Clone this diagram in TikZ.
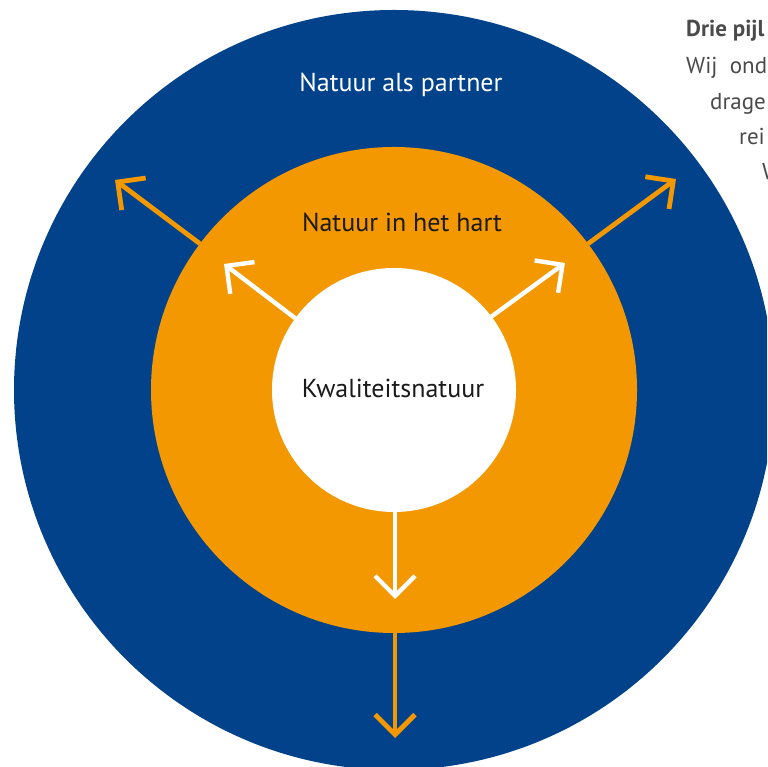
\documentclass[tikz,border=0pt]{standalone}
\usepackage{fontspec}
\setmainfont{PT Sans}
\usetikzlibrary{arrows.meta}
\definecolor{nblue}{HTML}{02428A}
\definecolor{norange}{HTML}{F39800}
\definecolor{ngray}{HTML}{4A4A4A}
\definecolor{ntext}{HTML}{1A1A1A}
\begin{document}
\begin{tikzpicture}[x=1pt,y=1pt,
  ring/.style={circle, inner sep=0, outer sep=0, draw=none},
  bigtext/.style={anchor=base, inner sep=0, font=\fontsize{26}{30}\selectfont},
  sidetext/.style={anchor=base west, inner sep=0, text=ngray, font=\fontsize{23}{27}\selectfont},
  orangearrow/.style={draw=norange, line width=4.8, -{Straight Barb[sharp, length=20, width=40]}},
  whitearrow/.style={draw=white, line width=4.4, -{Straight Barb[sharp, length=20, width=40]}}
]
\useasboundingbox (0,0) rectangle (767,767);
\clip (0,0) rectangle (767,767);
\node[ring, fill=nblue, minimum size=760] (outer) at (394,377) {};
\node[ring, fill=norange, minimum size=486] (middle) at (394,377) {};
\node[ring, fill=white, minimum size=244] (inner) at (394,377) {};
% labels
\node[bigtext, text=white] (t1) at (401,675) {Natuur als partner};
\node[bigtext, text=ntext] (t2) at (402,535) {Natuur in het hart};
\node[bigtext, text=ntext] (t3) at (393,369) {Kwaliteitsnatuur};
% side text (cut off at the right edge, as in the reference)
\node[sidetext, font=\fontsize{23}{27}\selectfont\bfseries] (s1) at (686,730) {Drie pijl};
\node[sidetext] (s2) at (686,693) {Wij\ \ ond};
\node[sidetext] (s3) at (710,657) {drage};
\node[sidetext] (s4) at (739,622) {rei};
\node[sidetext] (s5) at (762,587) {W};
% arrow end points
\coordinate (oUL) at (115,587);
\coordinate (oUR) at (676,588);
\coordinate (oB) at (395,29);
\coordinate (wUL) at (224,503);
\coordinate (wUR) at (565,504);
\coordinate (wB) at (395,168);
% arrows
\draw[orangearrow] (middle.143) -- (oUL);
\draw[orangearrow] (middle.37) -- (oUR);
\draw[orangearrow] (middle.south -| oB) -- (oB);
\draw[whitearrow] (inner.144) -- (wUL);
\draw[whitearrow] (inner.37) -- (wUR);
\draw[whitearrow] (inner.south -| wB) -- (wB);
\end{tikzpicture}
\end{document}
